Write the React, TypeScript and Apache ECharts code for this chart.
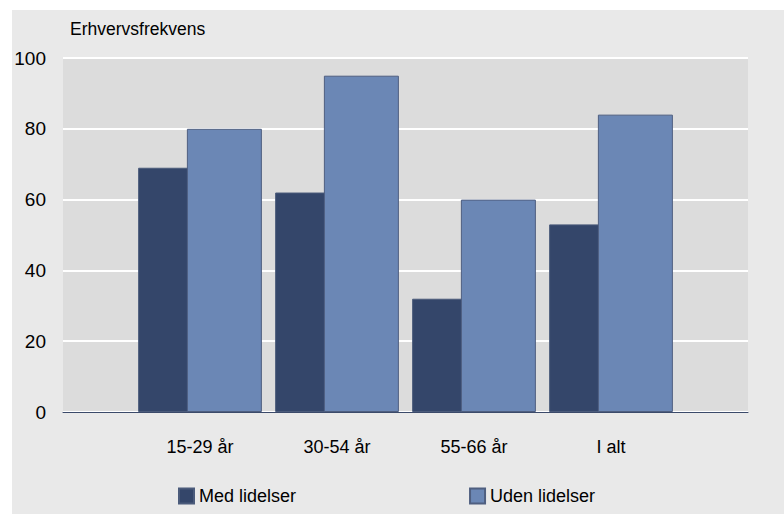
import React, { useEffect, useRef } from "react";
import * as echarts from "echarts";

const categories = ["15-29 år", "30-54 år", "55-66 år", "I alt"];
const medLidelser = [69, 62, 32, 53];
const udenLidelser = [80, 95, 60, 84];
const seriesNames = ["Med lidelser", "Uden lidelser"];
const yTitle = "Erhvervsfrekvens";

const FONT = "'Liberation Sans', Arial, sans-serif";

export default function App() {
  const ref = useRef<HTMLDivElement>(null);
  useEffect(() => {
    if (!ref.current) return;
    const chart = echarts.init(ref.current, null, { renderer: "svg" });
    const padData = (arr: number[]) => ["-", ...arr, "-"];
    const padCats = (arr: string[]) => ["", ...arr, ""];
    chart.setOption({
      animation: false,
      textStyle: { fontFamily: FONT },
      graphic: [
        {
          type: "rect",
          shape: { x: 12, y: 10, width: 772, height: 504 },
          style: { fill: "#e9e9e9" },
          z: -10,
          silent: true,
        },
        {
          type: "text",
          x: 70,
          y: 20,
          style: { text: yTitle, fontSize: 17.5, fontFamily: FONT, fill: "#000" },
        },
      ],
      grid: {
        left: 63,
        top: 58,
        width: 685,
        height: 354,
        show: true,
        backgroundColor: "#dcdcdc",
        borderWidth: 0,
        containLabel: false,
      },
      legend: {
        left: 178,
        top: 487,
        padding: 0,
        itemWidth: 15,
        itemHeight: 15,
        itemGap: 173,
        icon: "rect",
        textStyle: { fontSize: 18, color: "#000", fontFamily: FONT },
        data: seriesNames,
      },
      xAxis: {
        type: "category",
        data: padCats(categories),
        boundaryGap: false,
        axisTick: { show: false },
        axisLine: { show: true, lineStyle: { color: "#3b4a6a", width: 1 } },
        axisLabel: { interval: 0, fontSize: 18, color: "#000", margin: 26, fontFamily: FONT },
        splitLine: { show: false },
      },
      yAxis: {
        type: "value",
        min: 0,
        max: 100,
        interval: 20,
        axisLine: { show: false },
        axisTick: { show: false },
        axisLabel: { fontSize: 19, color: "#000", margin: 17, fontFamily: FONT },
        splitLine: { show: true, lineStyle: { color: "#ffffff", width: 2 } },
      },
      series: [
        {
          name: seriesNames[0],
          type: "bar",
          data: padData(medLidelser),
          barWidth: 75,
          barGap: "-35%",
          itemStyle: { color: "#34466a", borderColor: "#4b5b7b", borderWidth: 1 },
        },
        {
          name: seriesNames[1],
          type: "bar",
          data: padData(udenLidelser),
          barWidth: 75,
          barGap: "-35%",
          itemStyle: { color: "#6b87b5", borderColor: "#4f5f80", borderWidth: 1 },
        },
      ],
    });
    return () => chart.dispose();
  }, []);
  return (
    <div
      ref={ref}
      style={{ position: "absolute", left: 0, top: 0, width: 784, height: 514 }}
    />
  );
}
